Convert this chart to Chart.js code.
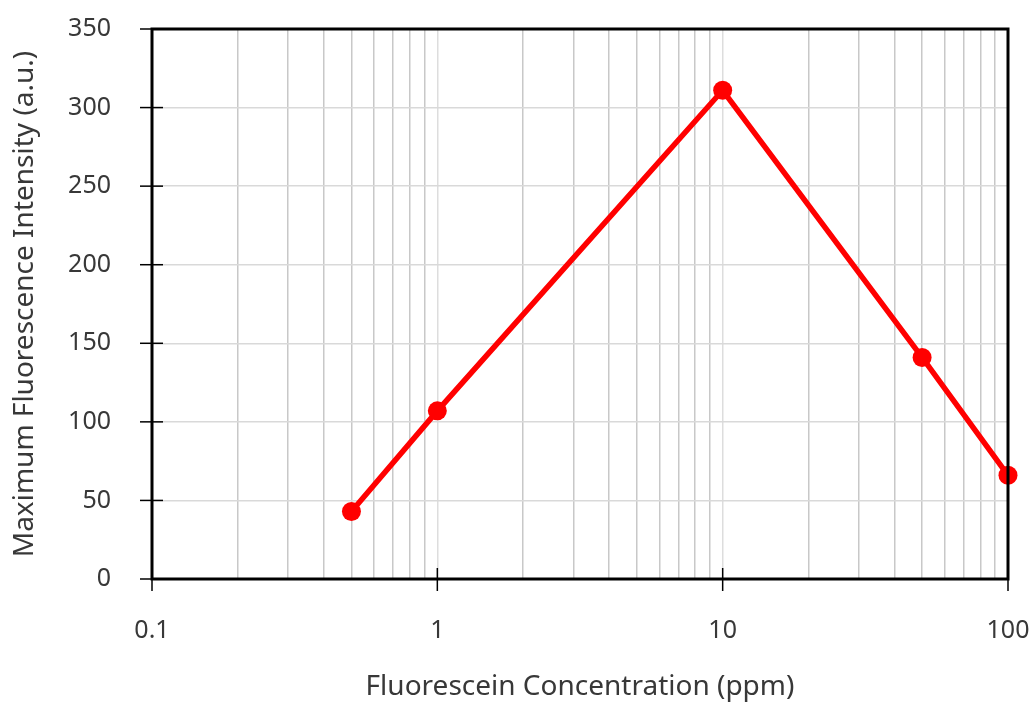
<!DOCTYPE html>
<html>
<head>
<meta charset="utf-8">
<title>Fluorescein</title>
<script src="https://cdn.jsdelivr.net/npm/chart.js@4/dist/chart.umd.min.js"></script>
<style>
  html, body { margin: 0; padding: 0; background: #fff; }
  #wrap { width: 1035px; height: 704px; }
</style>
</head>
<body>
<div id="wrap"><canvas id="chart"></canvas></div>
<script>
// concentrations (ppm) and measured peak intensity
const concentrations = [0.5, 1, 10, 50, 100];
const intensities = [43, 107, 311, 141, 66];

// log axis: decade labels plus the 2..9 minor lines
const decadeTicks = [0.1, 1, 10, 100];
const minorTicks = [0.2, 0.3, 0.4, 0.5, 0.6, 0.7, 0.8, 0.9,
                    2, 3, 4, 5, 6, 7, 8, 9,
                    20, 30, 40, 50, 60, 70, 80, 90];
const yTicks = [0, 50, 100, 150, 200, 250, 300, 350];

const FONT = "'Noto Sans', 'Open Sans', sans-serif";
const TEXT = "#383838";

const isDecade = v => decadeTicks.some(d => Math.abs(d - v) < 1e-9);

// keep label overflow from shrinking the plot; layout padding sets the margins
function noOverflow(scale) {
    scale.paddingTop = 0;
    scale.paddingBottom = 0;
    scale.paddingLeft = 0;
    scale.paddingRight = 0;
}

// black box round the plot and tick marks that cross the axes
const framePlugin = {
    id: "frame",
    afterDraw(chart) {
        const { ctx, chartArea: a, scales } = chart;
        ctx.save();
        ctx.strokeStyle = "#000";
        ctx.lineWidth = 1.5;
        yTicks.forEach(v => {
            const y = scales.y.getPixelForValue(v);
            ctx.beginPath();
            ctx.moveTo(a.left - 12, y);
            ctx.lineTo(a.left + 11, y);
            ctx.stroke();
        });
        decadeTicks.forEach(v => {
            const x = scales.x.getPixelForValue(v);
            ctx.beginPath();
            ctx.moveTo(x, a.bottom - 11);
            ctx.lineTo(x, a.bottom + 12);
            ctx.stroke();
        });
        ctx.lineWidth = 3;
        ctx.strokeRect(a.left, a.top, a.right - a.left, a.bottom - a.top);
        ctx.restore();
    }
};

new Chart(document.getElementById("chart"), {
    type: "line",
    data: {
        datasets: [{
            data: concentrations.map((c, i) => ({ x: c, y: intensities[i] })),
            borderColor: "#ff0000",
            backgroundColor: "#ff0000",
            borderWidth: 5.5,
            pointRadius: 9.5,
            pointHoverRadius: 9.5,
            pointBorderWidth: 0,
            tension: 0,
            clip: false
        }]
    },
    options: {
        responsive: true,
        maintainAspectRatio: false,
        animation: false,
        layout: { autoPadding: false, padding: { top: 29, right: 27, left: 0, bottom: 0 } },
        plugins: { legend: { display: false }, tooltip: { enabled: false } },
        scales: {
            x: {
                type: "logarithmic",
                min: 0.1,
                max: 100,
                afterBuildTicks(scale) {
                    scale.ticks = decadeTicks.concat(minorTicks)
                        .sort((a, b) => a - b)
                        .map(v => ({ value: v }));
                },
                afterFit(scale) { scale.height = 125; noOverflow(scale); },
                border: { display: false },
                grid: {
                    drawTicks: false,
                    lineWidth: 1.5,
                    color: ctx => (ctx.tick && isDecade(ctx.tick.value)) ? "#dddddd" : "#c8c8c8"
                },
                ticks: {
                    autoSkip: false,
                    maxRotation: 0,
                    padding: 37,
                    color: TEXT,
                    font: { family: FONT, size: 25 },
                    callback: v => isDecade(v) ? String(v) : ""
                },
                title: {
                    display: true,
                    text: "Fluorescein Concentration (ppm)",
                    color: TEXT,
                    font: { family: FONT, size: 28 },
                    padding: { top: 4, bottom: 0 }
                }
            },
            y: {
                min: 0,
                max: 350,
                afterBuildTicks(scale) {
                    scale.ticks = yTicks.map(v => ({ value: v }));
                },
                afterFit(scale) { scale.width = 152; noOverflow(scale); },
                border: { display: false },
                grid: {
                    drawTicks: false,
                    lineWidth: 1.5,
                    color: "#d9d9d9"
                },
                ticks: {
                    padding: 41,
                    color: TEXT,
                    font: { family: FONT, size: 25 }
                },
                title: {
                    display: true,
                    text: "Maximum Fluorescence Intensity (a.u.)",
                    color: TEXT,
                    font: { family: FONT, size: 28 },
                    padding: { top: 8, bottom: 0 }
                }
            }
        }
    },
    plugins: [framePlugin]
});
</script>
</body>
</html>
